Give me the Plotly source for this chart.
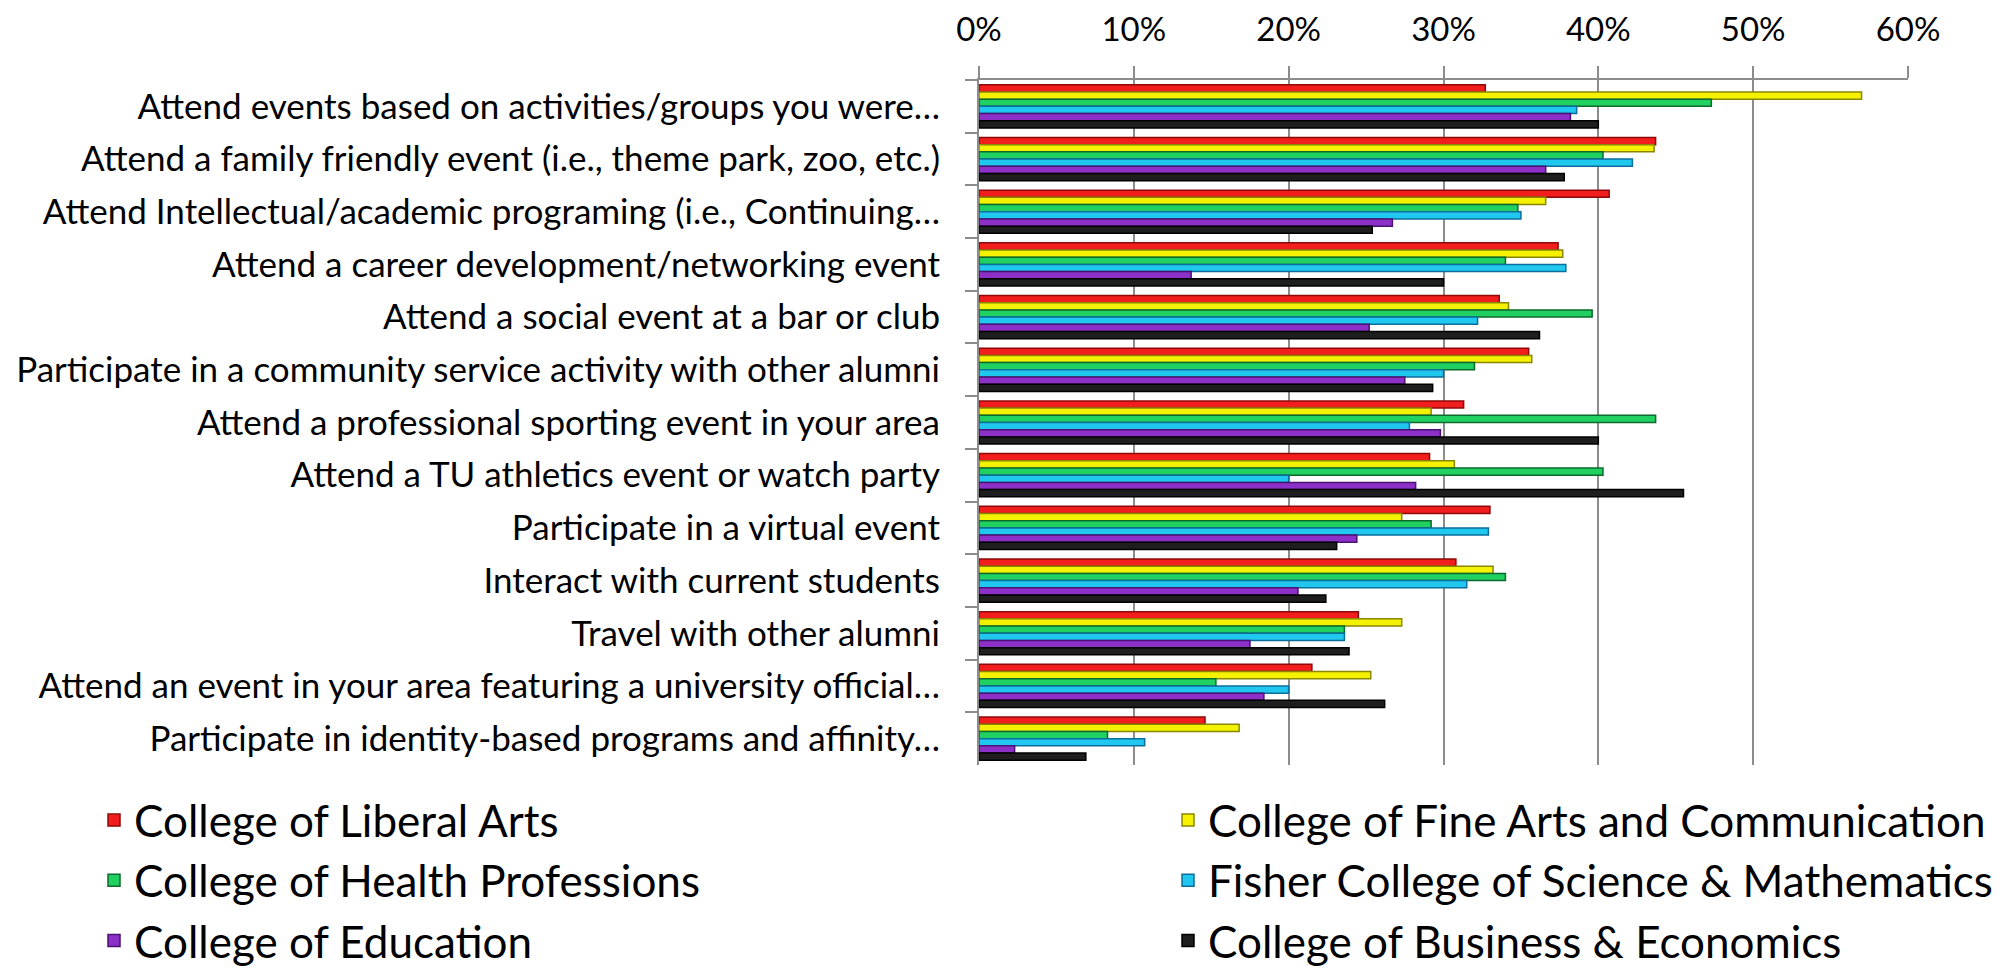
import plotly.graph_objects as go

categories = [
    "Attend events based on activities/groups you were…",
    "Attend a family friendly event (i.e., theme park, zoo, etc.)",
    "Attend Intellectual/academic programing (i.e., Continuing…",
    "Attend a career development/networking event",
    "Attend a social event at a bar or club",
    "Participate in a community service activity with other alumni",
    "Attend a professional sporting event in your area",
    "Attend a TU athletics event or watch party",
    "Participate in a virtual event",
    "Interact with current students",
    "Travel with other alumni",
    "Attend an event in your area featuring a university official…",
    "Participate in identity-based programs and affinity…",
]

liberal_arts = [32.7, 43.7, 40.7, 37.4, 33.6, 35.5, 31.3, 29.1, 33.0, 30.8, 24.5, 21.5, 14.6]
fine_arts = [57.0, 43.6, 36.6, 37.7, 34.2, 35.7, 29.2, 30.7, 27.3, 33.2, 27.3, 25.3, 16.8]
health = [47.3, 40.3, 34.8, 34.0, 39.6, 32.0, 43.7, 40.3, 29.2, 34.0, 23.6, 15.3, 8.3]
fisher = [38.6, 42.2, 35.0, 37.9, 32.2, 30.0, 27.8, 20.0, 32.9, 31.5, 23.6, 20.0, 10.7]
education = [38.2, 36.6, 26.7, 13.7, 25.2, 27.5, 29.8, 28.2, 24.4, 20.6, 17.5, 18.4, 2.3]
business = [40.0, 37.8, 25.4, 30.0, 36.2, 29.3, 40.0, 45.5, 23.1, 22.4, 23.9, 26.2, 6.9]

series_names = [
    "College of Liberal Arts",
    "College of Fine Arts and Communication",
    "College of Health Professions",
    "Fisher College of Science & Mathematics",
    "College of Education",
    "College of Business & Economics",
]
series_values = [liberal_arts, fine_arts, health, fisher, education, business]
fill_colors = ["#f21d1d", "#f4f200", "#20d060", "#20c8f0", "#8c30c8", "#1e1e1e"]
edge_colors = ["#8e0a0a", "#8a8600", "#0b6a2c", "#0b6e9c", "#4a1272", "#000000"]
legend_ids = ["legend", "legend2", "legend", "legend2", "legend", "legend2"]

FONT = "Lato"
W, H = 2011, 970
ML, MR, MT, MB = 971, 111, 72, 213
PW, PH = W - ML - MR, H - MT - MB


def px_x(x):
    return (x - ML) / PW


def px_y(y):
    return (H - MB - y) / PH


fig = go.Figure()
for i, (name, vals, fc, ec, lg) in enumerate(zip(series_names, series_values, fill_colors, edge_colors, legend_ids)):
    fig.add_trace(go.Bar(
        y=categories,
        x=[v / 100 for v in vals],
        name=name,
        orientation="h",
        legend=lg,
        legendgroup=f"g{i}",
        marker=dict(color=fc, line=dict(color=ec, width=1.5)),
    ))

legend_common = dict(
    orientation="v",
    xanchor="left",
    yanchor="top",
    font=dict(size=44, family=FONT, color="black"),
    traceorder="normal",
    tracegroupgap=8,
    bgcolor="rgba(0,0,0,0)",
)

fig.update_layout(
    width=W,
    height=H,
    margin=dict(l=ML, r=MR, t=MT, b=MB, autoexpand=False),
    paper_bgcolor="white",
    plot_bgcolor="white",
    barmode="group",
    bargap=0.18,
    bargroupgap=0.0,
    font=dict(family=FONT, color="black", size=33),
    xaxis=dict(
        side="top",
        range=[0, 0.6],
        tickvals=[0, 0.1, 0.2, 0.3, 0.4, 0.5, 0.6],
        tickformat=".0%",
        showgrid=True,
        gridcolor="#8c8c8c",
        gridwidth=2,
        zeroline=False,
        showline=True,
        linecolor="#8c8c8c",
        linewidth=2,
        ticks="outside",
        ticklen=12,
        tickwidth=2,
        tickcolor="#8c8c8c",
        tickfont=dict(size=33, family=FONT),
        ticklabelstandoff=12,
    ),
    yaxis=dict(
        autorange="reversed",
        showline=True,
        linecolor="#8c8c8c",
        linewidth=2,
        ticks="outside",
        tickson="boundaries",
        ticklen=12,
        tickwidth=2,
        tickcolor="#8c8c8c",
        showgrid=False,
        tickfont=dict(size=35, family=FONT),
        ticklabelstandoff=30,
    ),
    legend=dict(legend_common, x=px_x(86), y=px_y(777)),
    legend2=dict(legend_common, x=px_x(1160), y=px_y(777)),
)

fig.write_html("out.html")
